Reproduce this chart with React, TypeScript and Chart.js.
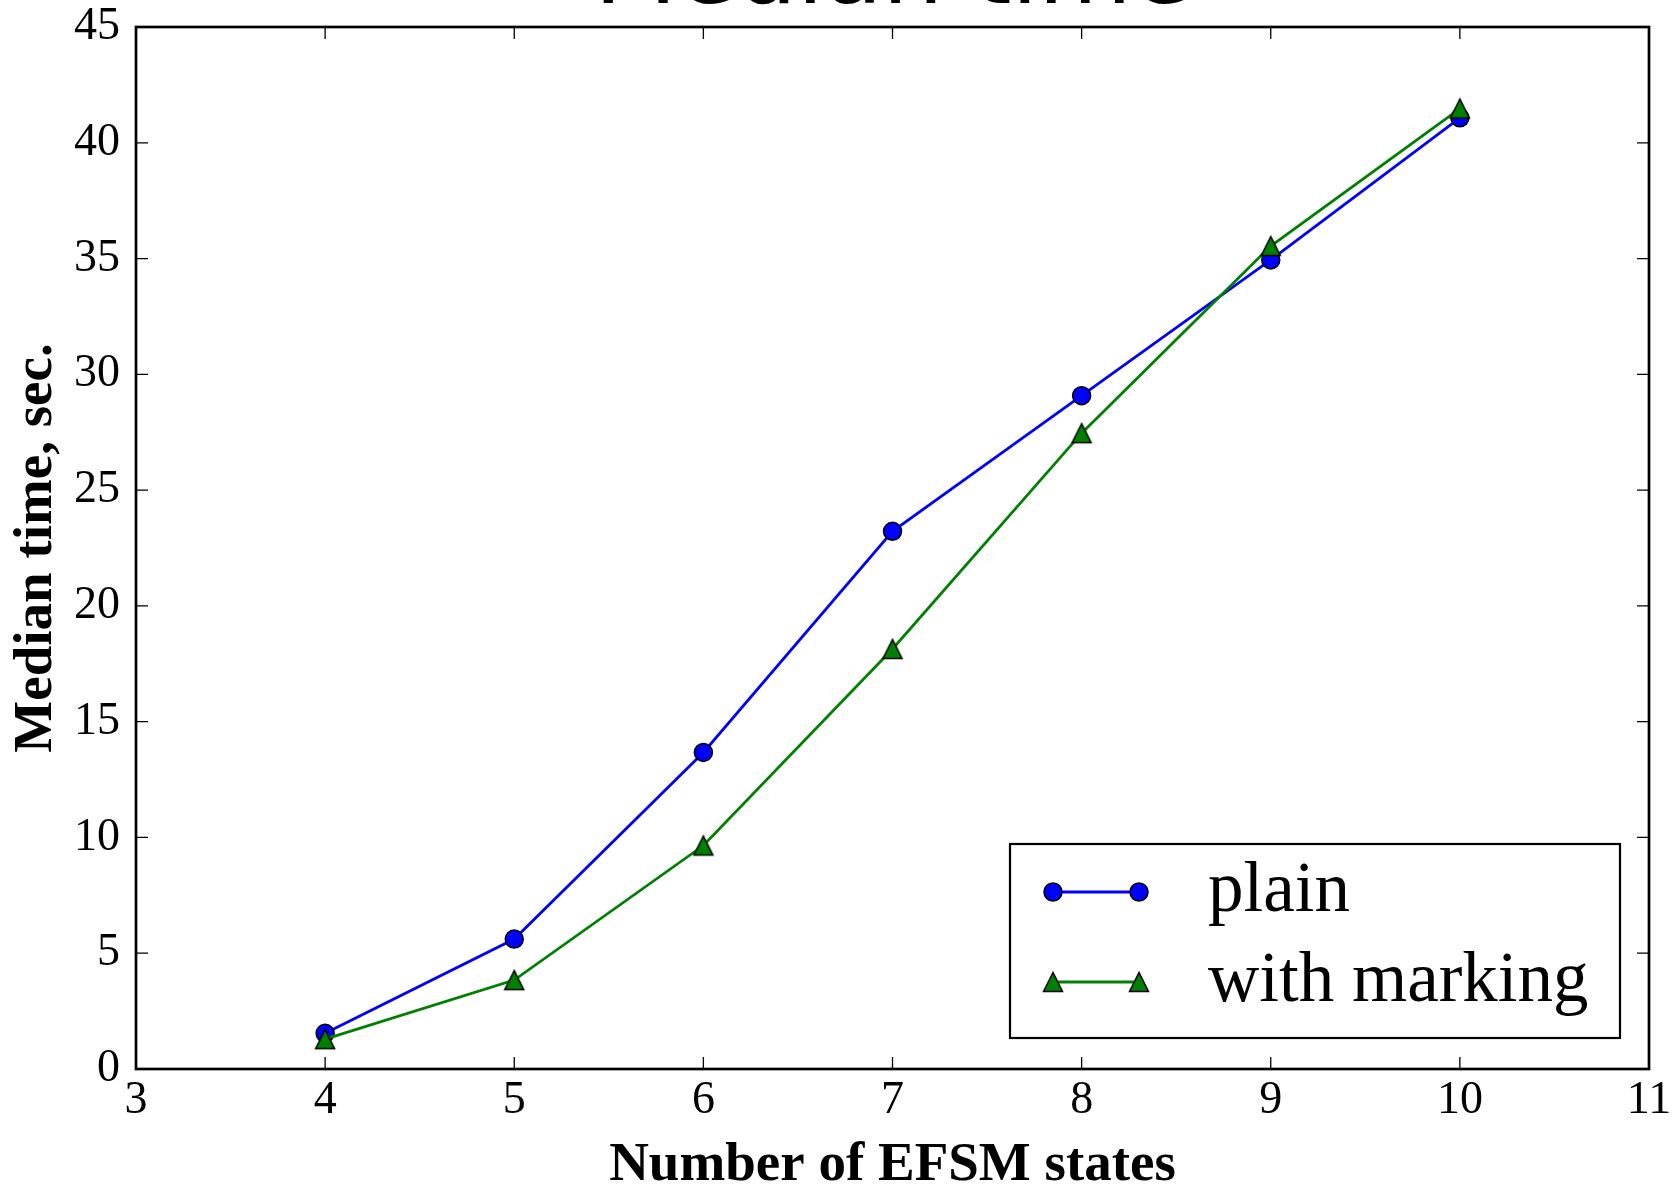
import React, { useEffect, useRef } from "react";
import { Chart, registerables } from "chart.js";

Chart.register(...registerables);

// ---- data ----
const states = [4, 5, 6, 7, 8, 9, 10];
const plainTimes = [1.54, 5.61, 13.67, 23.22, 29.08, 34.94, 41.08];
const markingTimes = [1.29, 3.84, 9.65, 18.14, 27.46, 35.54, 41.48];
const xTicks = [3, 4, 5, 6, 7, 8, 9, 10, 11];
const yTicks = [0, 5, 10, 15, 20, 25, 30, 35, 40, 45];
const seriesLabels = ["plain", "with marking"];
const titleText = "Median time";
const xAxisTitle = "Number of EFSM states";
const yAxisTitle = "Median time, sec.";

const SERIF = "'Liberation Serif', 'Times New Roman', serif";

function makeTriangle(half: number, fill: string): HTMLCanvasElement {
  const lw = 1.5;
  const size = 2 * Math.ceil(half + lw + 1);
  const c = document.createElement("canvas");
  c.width = size;
  c.height = size;
  const g = c.getContext("2d")!;
  const cx = size / 2;
  const cy = size / 2;
  g.beginPath();
  g.moveTo(cx, cy - half);
  g.lineTo(cx - half, cy + half);
  g.lineTo(cx + half, cy + half);
  g.closePath();
  g.fillStyle = fill;
  g.fill();
  g.lineWidth = lw;
  g.strokeStyle = "#000";
  g.lineJoin = "miter";
  g.stroke();
  return c;
}

const frameTicksPlugin = {
  id: "frameTicks",
  afterDatasetsDraw(chart: any) {
    const { ctx, chartArea } = chart;
    const { left, right, top, bottom } = chartArea;
    const xs = chart.scales.x;
    const ys = chart.scales.y;
    const len = 12;
    ctx.save();
    ctx.strokeStyle = "#000";
    ctx.lineWidth = 1.3;
    ctx.beginPath();
    xTicks.forEach((v) => {
      const px = xs.getPixelForValue(v);
      ctx.moveTo(px, bottom);
      ctx.lineTo(px, bottom - len);
      ctx.moveTo(px, top);
      ctx.lineTo(px, top + len);
    });
    yTicks.forEach((v) => {
      const py = ys.getPixelForValue(v);
      ctx.moveTo(left, py);
      ctx.lineTo(left + len, py);
      ctx.moveTo(right, py);
      ctx.lineTo(right - len, py);
    });
    ctx.stroke();
    ctx.lineWidth = 2.7;
    ctx.strokeRect(left, top, right - left, bottom - top);
    ctx.restore();
  },
};

const boxLegendPlugin = {
  id: "boxLegend",
  afterDraw(chart: any, _args: any, opts: any) {
    const { ctx } = chart;
    const { x1, y1, x2, y2, lineX1, lineX2, textX, rows, fontSize } = opts;
    ctx.save();
    ctx.fillStyle = "#fff";
    ctx.fillRect(x1, y1, x2 - x1, y2 - y1);
    ctx.strokeStyle = "#000";
    ctx.lineWidth = 2.2;
    ctx.strokeRect(x1, y1, x2 - x1, y2 - y1);
    chart.data.datasets.forEach((ds: any, i: number) => {
      const y = rows[i];
      ctx.strokeStyle = ds.borderColor;
      ctx.lineWidth = ds.borderWidth;
      ctx.beginPath();
      ctx.moveTo(lineX1, y);
      ctx.lineTo(lineX2, y);
      ctx.stroke();
      [lineX1, lineX2].forEach((mx) => {
        if (ds.pointStyle instanceof HTMLCanvasElement) {
          const im = ds.pointStyle;
          ctx.drawImage(im, mx - im.width / 2, y - im.height / 2);
        } else {
          ctx.beginPath();
          ctx.arc(mx, y, ds.pointRadius, 0, Math.PI * 2);
          ctx.fillStyle = ds.pointBackgroundColor;
          ctx.fill();
          ctx.lineWidth = ds.pointBorderWidth;
          ctx.strokeStyle = ds.pointBorderColor;
          ctx.stroke();
        }
      });
      ctx.fillStyle = "#000";
      ctx.font = `${fontSize}px ${SERIF}`;
      ctx.textBaseline = "middle";
      ctx.textAlign = "left";
      ctx.fillText(ds.label, textX, y);
    });
    ctx.restore();
  },
};

export default function App() {
  const ref = useRef<HTMLCanvasElement | null>(null);

  useEffect(() => {
    if (!ref.current) return;
    Chart.defaults.color = "#000";
    const tri = makeTriangle(9.5, "#008000");
    const chart = new Chart(ref.current, {
      type: "line",
      data: {
        datasets: [
          {
            label: seriesLabels[0],
            data: states.map((x, i) => ({ x, y: plainTimes[i] })),
            borderColor: "#0000ff",
            borderWidth: 2.8,
            pointStyle: "circle",
            pointRadius: 9,
            pointBackgroundColor: "#0000ff",
            pointBorderColor: "#000",
            pointBorderWidth: 1.5,
            tension: 0,
            fill: false,
            order: 2,
          },
          {
            label: seriesLabels[1],
            data: states.map((x, i) => ({ x, y: markingTimes[i] })),
            borderColor: "#008000",
            borderWidth: 2.8,
            pointStyle: tri as any,
            pointRadius: 10,
            pointBackgroundColor: "#008000",
            pointBorderColor: "#000",
            pointBorderWidth: 1.5,
            tension: 0,
            fill: false,
            order: 1,
          },
        ],
      },
      options: {
        responsive: false,
        animation: false,
        events: [],
        layout: { padding: { left: 0, top: 0, right: 27, bottom: 0 } },
        plugins: {
          legend: { display: false },
          tooltip: { enabled: false },
          title: {
            display: true,
            text: titleText,
            fullSize: false,
            color: "#000",
            font: { family: "'DejaVu Sans', sans-serif", size: 96, weight: "normal", lineHeight: 1 },
            padding: { top: -70, bottom: 1 },
          },
          boxLegend: {
            x1: 1010,
            y1: 844,
            x2: 1620,
            y2: 1038,
            lineX1: 1053,
            lineX2: 1139,
            textX: 1208,
            rows: [892, 982],
            fontSize: 71,
          },
        } as any,
        scales: {
          x: {
            type: "linear",
            min: xTicks[0],
            max: xTicks[xTicks.length - 1],
            ticks: {
              stepSize: 1,
              padding: 9,
              color: "#000",
              font: { family: SERIF, size: 46, lineHeight: 1 },
              maxRotation: 0,
            },
            grid: { display: false, drawTicks: false },
            border: { display: false },
            title: {
              display: true,
              text: xAxisTitle,
              color: "#000",
              font: { family: SERIF, size: 55, weight: "bold", lineHeight: 1 },
              padding: { top: 0, bottom: -4 },
            },
            afterFit: (s: any) => {
              s.height = 120;
              s.paddingLeft = 0;
              s.paddingRight = 0;
            },
          },
          y: {
            type: "linear",
            min: yTicks[0],
            max: yTicks[yTicks.length - 1],
            ticks: {
              stepSize: 5,
              padding: 16,
              color: "#000",
              font: { family: SERIF, size: 46, lineHeight: 1 },
            },
            grid: { display: false, drawTicks: false },
            border: { display: false },
            title: {
              display: true,
              text: yAxisTitle,
              color: "#000",
              font: { family: SERIF, size: 55, weight: "bold", lineHeight: 1 },
              padding: { top: 9, bottom: 0 },
            },
            afterFit: (s: any) => {
              s.width = 136;
              s.paddingTop = 0;
              s.paddingBottom = 0;
            },
          },
        },
      } as any,
      plugins: [frameTicksPlugin, boxLegendPlugin],
    });
    return () => chart.destroy();
  }, []);

  return (
    <div style={{ position: "absolute", left: 0, top: 0, width: 1676, height: 1189, background: "#fff" }}>
      <canvas ref={ref} width={1676} height={1189} style={{ display: "block" }} />
    </div>
  );
}
